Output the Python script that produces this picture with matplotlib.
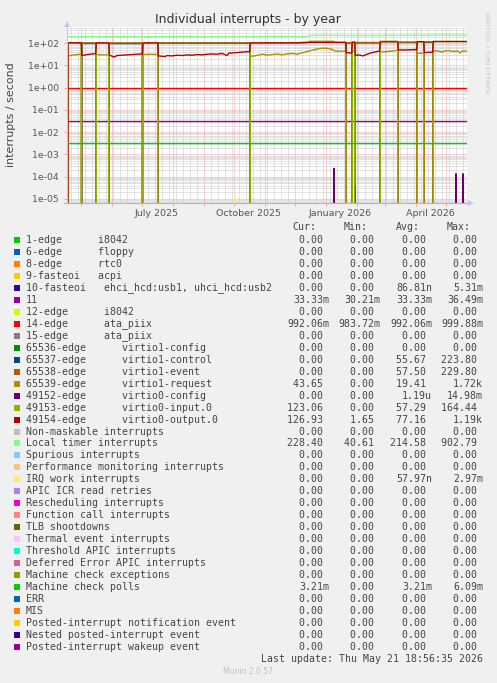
import numpy as np
import matplotlib
matplotlib.use("Agg")
import matplotlib.pyplot as plt
import matplotlib.dates as mdates
import matplotlib.transforms as mtransforms
from matplotlib.ticker import LogLocator, NullFormatter, FuncFormatter
from matplotlib.patches import Rectangle
from matplotlib.lines import Line2D
from datetime import datetime, timedelta

W, H = 497, 683
end = datetime(2026, 5, 21, 18, 56, 35)
start = end - timedelta(days=400)

# ---- series data (day offset from start of the 400-day window, value per second)
out_days = [0.5, 1, 14.2, 14.8, 20, 25, 28.7, 29.3, 41.7, 42.3, 45, 47, 50, 55, 60, 65, 70, 75.4,
            76, 90.7, 91.3, 95, 98, 100, 105, 110, 115, 120, 125, 130, 135, 140, 145, 150, 155,
            160, 162, 170, 175, 182.7, 183.3, 230, 240, 278.7, 279.3, 284.7, 285.3, 287.7, 288.3,
            292, 296, 300, 305, 310, 312.7, 313.3, 330.7, 331.3, 340, 349.7, 350.3, 356.7, 357.3,
            365.7, 366.3, 399.5]
out_vals = [0, 105, 105, 28, 31, 33, 34, 104, 104, 30, 26, 24, 28, 29, 30, 31, 32, 33,
            104, 104, 27, 26, 25, 28, 27, 29, 28, 30, 29, 31, 30, 32, 33, 32, 35,
            28, 36, 38, 40, 42, 104, 105, 110, 110, 38, 36, 112, 112, 28,
            30, 27, 32, 38, 42, 46, 115, 115, 50, 50, 52, 118, 118, 38,
            40, 120, 120]

req_days = [0.5, 1, 5, 10, 14.2, 14.5, 29, 29.3, 35, 41.7, 42, 75.7, 76, 82, 90.7, 91, 183,
            183.3, 188, 192, 196, 200, 205, 210, 215, 220, 225, 230, 235, 240, 245, 250, 255,
            260, 264, 268, 272, 278.7, 279, 285, 285.3, 287.7, 288, 313, 313.3, 320, 325, 330.7,
            331, 350, 350.3, 356.7, 357, 366, 366.3, 370, 375, 378, 382, 386, 390, 393, 396, 399.5]
req_vals = [0, 27, 29, 31, 32, 0, 0, 31, 30, 30, 0, 0, 31, 32, 31, 0, 0,
            26, 27, 30, 32, 29, 31, 33, 30, 33, 35, 32, 37, 42, 48, 55, 60,
            59, 55, 45, 44, 44, 0, 0, 45, 45, 0, 0, 40, 42, 45, 48,
            0, 0, 35, 36, 0, 0, 44, 46, 40, 45, 47, 42, 45, 37, 46, 44]

evt_days = [0.5, 14.5, 14.8, 28.7, 29, 42, 42.3, 75.4, 75.7, 91, 91.3, 182.7, 183, 279, 279.3,
            284.7, 285, 288, 288.3, 312.7, 313, 331, 331.3, 349.7, 350, 357, 357.3, 365.7, 366,
            399.5]
evt_vals = [0, 0, 103, 103, 0, 0, 103, 103, 0, 0, 103, 103, 0, 0, 106,
            106, 0, 0, 108, 108, 0, 0, 112, 112, 0, 0, 115, 115, 0,
            0]

ctl_days = evt_days
ctl_vals = [0, 0, 98, 98, 0, 0, 97, 97, 0, 0, 101, 101, 0, 0, 104,
            104, 0, 0, 104, 104, 0, 0, 108, 108, 0, 0, 110, 110, 0,
            0]

inp_days = [0.5, 1, 14.2, 14.5, 29, 29.3, 41.7, 42, 75.7, 76, 90.7, 91, 183, 183.3, 240, 243,
            266, 269, 278.7, 279, 285, 285.3, 287.7, 288, 313, 313.3, 330.7, 331, 350, 350.3,
            356.7, 357, 366, 366.3, 399.5]
inp_vals = [0, 100, 100, 0, 0, 100, 100, 0, 0, 100, 100, 0, 0, 100, 102, 123,
            123, 108, 108, 0, 0, 110, 110, 0, 0, 123, 123, 0, 0, 115,
            115, 0, 0, 118, 118]

timer_days = [1, 20, 40, 60, 80, 100, 120, 140, 160, 180, 200, 220, 240, 245, 260, 280, 300,
              320, 340, 360, 380, 399.5]
timer_vals = [200, 202, 199, 201, 198, 200, 202, 199, 201, 200, 202, 203, 204, 228, 226, 224,
              222, 225, 227, 230, 232, 228]

flat_days = [1, 399.5]
irq11_vals = [0.03333, 0.03333]
irq14_vals = [0.99206, 0.99206]
mcp_vals = [0.00321, 0.00321]

cfg_days = [266, 267, 268, 287, 288, 289, 388, 389, 390, 395, 396, 397]
cfg_vals = [0, 2.5e-4, 0, 0, 4e-5, 0, 0, 1.4e-4, 0, 0, 1.4e-4, 0]

irqwork_days = [167, 168, 169]
irqwork_vals = [0, 1.3e-5, 0]

x_labels = ["July 2025", "October 2025", "January 2026", "April 2026"]
x_label_dates = [datetime(2025, 7, 15), datetime(2025, 10, 15), datetime(2026, 1, 15),
                 datetime(2026, 4, 15)]

# ---- legend table
labels = ["1-edge      i8042", "6-edge      floppy", "8-edge      rtc0", "9-fasteoi   acpi",
          "10-fasteoi   ehci_hcd:usb1, uhci_hcd:usb2", "11", "12-edge      i8042",
          "14-edge      ata_piix", "15-edge      ata_piix", "65536-edge      virtio1-config",
          "65537-edge      virtio1-control", "65538-edge      virtio1-event",
          "65539-edge      virtio1-request", "49152-edge      virtio0-config",
          "49153-edge      virtio0-input.0", "49154-edge      virtio0-output.0",
          "Non-maskable interrupts", "Local timer interrupts", "Spurious interrupts",
          "Performance monitoring interrupts", "IRQ work interrupts", "APIC ICR read retries",
          "Rescheduling interrupts", "Function call interrupts", "TLB shootdowns",
          "Thermal event interrupts", "Threshold APIC interrupts",
          "Deferred Error APIC interrupts", "Machine check exceptions", "Machine check polls",
          "ERR", "MIS", "Posted-interrupt notification event", "Nested posted-interrupt event",
          "Posted-interrupt wakeup event"]
colors = ["#00CC00", "#0066B3", "#FF8000", "#FFCC00", "#330099", "#990099", "#CCFF00",
          "#FF0000", "#808080", "#008F00", "#00487D", "#B35A00", "#B38F00", "#6B006B",
          "#8FB300", "#B30000", "#BEBEBE", "#80FF80", "#80C9FF", "#FFC080", "#FFE680",
          "#AA80FF", "#EE00CC", "#FF8080", "#666600", "#FFBFFF", "#00FFCC", "#CC6699",
          "#999900", "#00CC00", "#0066B3", "#FF8000", "#FFCC00", "#330099", "#990099"]
cur = ["0.00", "0.00", "0.00", "0.00", "0.00", "33.33m", "0.00", "992.06m", "0.00", "0.00",
       "0.00", "0.00", "43.65", "0.00", "123.06", "126.93", "0.00", "228.40"] + ["0.00"] * 11 + \
      ["3.21m"] + ["0.00"] * 5
mins = ["0.00", "0.00", "0.00", "0.00", "0.00", "30.21m", "0.00", "983.72m", "0.00", "0.00",
        "0.00", "0.00", "0.00", "0.00", "0.00", "1.65", "0.00", "40.61"] + ["0.00"] * 17
avgs = ["0.00", "0.00", "0.00", "0.00", "86.81n", "33.33m", "0.00", "992.06m", "0.00", "0.00",
        "55.67", "57.50", "19.41", "1.19u", "57.29", "77.16", "0.00", "214.58", "0.00", "0.00",
        "57.97n"] + ["0.00"] * 8 + ["3.21m"] + ["0.00"] * 5
maxs = ["0.00", "0.00", "0.00", "0.00", "5.31m", "36.49m", "0.00", "999.88m", "0.00", "0.00",
        "223.80", "229.80", "1.72k", "14.98m", "164.44", "1.19k", "0.00", "902.79", "0.00",
        "0.00", "2.97m"] + ["0.00"] * 8 + ["6.09m"] + ["0.00"] * 5

# series drawn in munin order: (legend index, days, values)
series = [(5, flat_days, irq11_vals), (7, flat_days, irq14_vals),
          (10, ctl_days, ctl_vals), (11, evt_days, evt_vals), (12, req_days, req_vals),
          (13, cfg_days, cfg_vals), (14, inp_days, inp_vals), (15, out_days, out_vals),
          (17, timer_days, timer_vals), (20, irqwork_days, irqwork_vals),
          (29, flat_days, mcp_vals)]


def fx(x):
    return x / W


def fy(y):
    return 1 - y / H


fig = plt.figure(figsize=(W / 100, H / 100), dpi=100, facecolor="#F0F0F0")
ax = fig.add_axes([fx(67), fy(203), 400 / W, 176 / H])
ax.set_facecolor("white")

t0 = mdates.date2num(start)
for idx, d, v in series:
    ax.plot(t0 + np.array(d), v, color=colors[idx], lw=1.0, solid_joinstyle="miter")

ax.set_yscale("log")
ax.set_ylim(10 ** -5.18, 10 ** 2.73)
ax.set_xlim(t0, t0 + 400)

grid_red = "#F2A0A0"
grid_grey = "#C9C9C9"
ax.yaxis.set_major_locator(LogLocator(base=10, numticks=20))
ax.yaxis.set_minor_locator(LogLocator(base=10, subs=np.arange(2, 10), numticks=20))
ax.yaxis.set_major_formatter(FuncFormatter(lambda v, p: format(v, ".0e")))
ax.yaxis.set_minor_formatter(NullFormatter())
ax.xaxis.set_major_locator(mdates.MonthLocator())
ax.xaxis.set_major_formatter(NullFormatter())
ax.xaxis.set_minor_locator(mdates.WeekdayLocator(byweekday=mdates.MO))
ax.xaxis.set_minor_formatter(NullFormatter())

ax.grid(which="minor", axis="both", color=grid_grey, lw=0.72, ls=(0, (1, 1)))
ax.grid(which="major", axis="both", color=grid_red, lw=0.72, ls=(0, (1, 1)))
ax.set_axisbelow(True)

ax.tick_params(axis="y", which="major", length=2, width=0.7, color=grid_red,
               labelsize=6.7, labelcolor="#555555", pad=4)
ax.tick_params(axis="y", which="minor", length=0)
ax.tick_params(axis="x", which="major", length=2, width=0.7, color=grid_red)
ax.tick_params(axis="x", which="minor", length=0)
for s in ax.spines.values():
    s.set_visible(False)

# month labels, centred mid-month as rrdtool does
trans = mtransforms.blended_transform_factory(ax.transData, fig.transFigure)
for lab, dt in zip(x_labels, x_label_dates):
    ax.text(mdates.date2num(dt), fy(213), lab, transform=trans, ha="center", va="center",
            fontsize=6.8, color="#555555")

# axes lines with arrows
axis_col = "#C4C6F2"
fig.add_artist(Line2D([fx(67), fx(67)], [fy(203), fy(25)], color=axis_col, lw=0.8))
fig.add_artist(Line2D([fx(64), fx(470)], [fy(203), fy(203)], color="#B9A9EA", lw=0.8))
fig.add_artist(Line2D([fx(67)], [fy(24)], marker="^", ms=4, color=axis_col, mew=0))
fig.add_artist(Line2D([fx(471)], [fy(203)], marker=">", ms=4, color=axis_col, mew=0))

# titles
fig.text(fx(248), fy(20), "Individual interrupts - by year", ha="center", va="center",
         fontsize=9, color="#333333")
fig.text(fx(11), fy(115), "interrupts / second", ha="center", va="center", rotation=90,
         fontsize=7.9, color="#444444")
fig.text(fx(487), fy(53), "RRDTOOL / TOBI OETIKER", ha="center", va="center", rotation=270,
         fontsize=4.6, color="#C4C4C4")

# legend
mono = "DejaVu Sans Mono"
fs = 7.1
txt = "#444444"
for x, h in zip([316, 368, 419.5, 470.5], ["Cur:", "Min:", "Avg:", "Max:"]):
    fig.text(fx(x), fy(227.5), h, ha="right", va="center", family=mono, fontsize=fs, color=txt)


def fmt(s):
    return s if s[-1].isalpha() else s + " "


for i, lab in enumerate(labels):
    y = 240 + 11.97 * i
    fig.add_artist(Rectangle((fx(14), fy(y + 3)), 6 / W, 6 / H, facecolor=colors[i],
                             edgecolor="none", transform=fig.transFigure))
    fig.text(fx(26), fy(y), lab, ha="left", va="center", family=mono, fontsize=fs, color=txt)
    for x, col in zip([328.9, 380.5, 432.0, 483.0], [cur, mins, avgs, maxs]):
        fig.text(fx(x), fy(y), fmt(col[i]), ha="right", va="center", family=mono,
                 fontsize=fs, color=txt)

fig.text(fx(483), fy(659.3), "Last update: Thu May 21 18:56:35 2026", ha="right",
         va="center", family=mono, fontsize=fs, color=txt)
fig.text(fx(248), fy(672), "Munin 2.0.57", ha="center", va="center", fontsize=5.5,
         color="#C0C0C0")

fig.savefig("out.png", dpi=100, facecolor=fig.get_facecolor())
